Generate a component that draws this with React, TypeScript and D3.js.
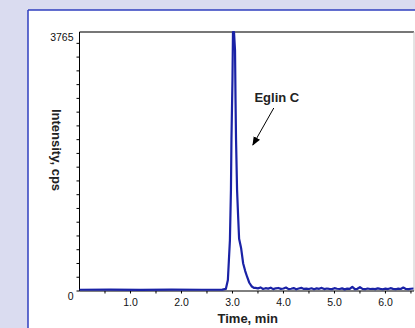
import React from "react";
import * as d3 from "d3";

const W = 415;
const H = 328;

// rising edge + peak + tail (time in min, intensity in cps)
const peakTimes = [0, 0.6, 1.2, 1.8, 2.4, 2.8, 2.87, 2.91, 2.93, 2.95, 2.97, 2.98, 3.0, 3.01, 3.03, 3.05, 3.06, 3.07, 3.09, 3.11, 3.13, 3.15, 3.17, 3.21, 3.25, 3.29, 3.33, 3.38, 3.42];
const peakValues = [18, 20, 17, 19, 18, 20, 30, 160, 450, 740, 1470, 2200, 3070, 3765, 3765, 3500, 2780, 2200, 1470, 1100, 760, 690, 620, 400, 290, 200, 120, 65, 45];

// noisy baseline after the peak, sampled every 0.05 min
const tailStart = 3.45;
const tailStep = 0.05;
const tailValues = [45, 38, 52, 30, 41, 35, 48, 27, 39, 44, 31, 36, 50, 28, 33, 42, 25, 37, 46, 30, 34, 29, 40, 26, 38, 32, 45, 28, 36, 31, 27, 41, 33, 29, 38, 24, 35, 30, 60, 27, 32, 55, 30, 26, 36, 29, 33, 27, 38, 30, 25, 34, 28, 41, 31, 26, 35, 29, 50, 30, 27, 33, 36];

const yMax = 3765;
const yLabels = [0, 3765];
const yMinorStep = 200;
const xLabels = [1, 2, 3, 4, 5, 6];
const xMinorStep = 0.5;

const annotation = { text: "Eglin C", t: 3.87, v: 2748, from: [3.81, 2660], to: [3.4, 2123] };

const font = "'Liberation Sans', Arial, sans-serif";

export default function App() {
  const left = 79.5;
  const right = 414;
  const top = 32;
  const bottom = 291;

  const x = d3.scaleLinear().domain([0, 6.56]).range([left, right]);
  const y = d3.scaleLinear().domain([0, yMax]).range([bottom, top]);

  const pts: [number, number][] = peakTimes.map((t, i) => [t, peakValues[i]]);
  tailValues.forEach((v, i) => pts.push([tailStart + i * tailStep, v]));
  const line = d3
    .line<[number, number]>()
    .x((d) => x(d[0]))
    .y((d) => y(d[1]));

  const yMinor = d3.range(0, yMax, yMinorStep);
  const xMinor = d3.range(xMinorStep, 6.56, xMinorStep);

  return (
    <svg width={W} height={H} style={{ position: "absolute", left: 0, top: 0 }} fontFamily={font}>
      <rect width={W} height={H} fill="#dadcf0" />
      <rect x={28} y={10} width={W - 28} height={H - 10} fill="#fff" />
      <line x1={28} y1={10} x2={W} y2={10} stroke="#2f3fbf" strokeWidth={1.5} />
      <line x1={28} y1={10} x2={28} y2={H} stroke="#2f3fbf" strokeWidth={1.5} />

      {/* frame */}
      <line x1={left} y1={top} x2={right} y2={top} stroke="#777" strokeWidth={2} />
      <line x1={right} y1={top} x2={right} y2={bottom} stroke="#c8c8c8" strokeWidth={1} />
      <line x1={left} y1={top} x2={left} y2={bottom} stroke="#000" strokeWidth={1} />
      <line x1={left} y1={bottom} x2={right} y2={bottom} stroke="#000" strokeWidth={1} />

      {yMinor.map((v) => (
        <line key={v} x1={left - 3} x2={left} y1={y(v)} y2={y(v)} stroke="#000" strokeWidth={1} />
      ))}
      {yLabels.map((v) => (
        <text key={v} x={left - 6} y={y(v) + 9} fontSize={10.5} textAnchor="end" fill="#111">
          {v}
        </text>
      ))}
      {xMinor.map((t) => (
        <line key={t} x1={x(t)} x2={x(t)} y1={bottom} y2={bottom + 2.5} stroke="#000" strokeWidth={1} />
      ))}
      {xLabels.map((t) => (
        <text key={t} x={x(t)} y={306} fontSize={10.5} textAnchor="middle" fill="#111">
          {t.toFixed(1)}
        </text>
      ))}

      <path d={line(pts) ?? ""} fill="none" stroke="#1a22a6" strokeWidth={2.2} strokeLinejoin="round" />

      <text x={(left + right) / 2 + 1} y={323} fontSize={13} fontWeight="bold" textAnchor="middle" fill="#222">
        Time, min
      </text>
      <text
        transform={`translate(52,150) rotate(90)`}
        fontSize={13}
        fontWeight="bold"
        textAnchor="middle"
        fill="#222"
      >
        Intensity, cps
      </text>

      <defs>
        <marker id="ah" viewBox="0 0 10 10" refX={9} refY={5} markerWidth={9} markerHeight={9} orient="auto">
          <path d="M0,1 L10,5 L0,9 z" fill="#000" />
        </marker>
      </defs>
      <text x={x(annotation.t)} y={y(annotation.v)} fontSize={13} fontWeight="bold" textAnchor="middle" fill="#222">
        {annotation.text}
      </text>
      <line
        x1={x(annotation.from[0])}
        y1={y(annotation.from[1])}
        x2={x(annotation.to[0])}
        y2={y(annotation.to[1])}
        stroke="#000"
        strokeWidth={1}
        markerEnd="url(#ah)"
      />
    </svg>
  );
}
